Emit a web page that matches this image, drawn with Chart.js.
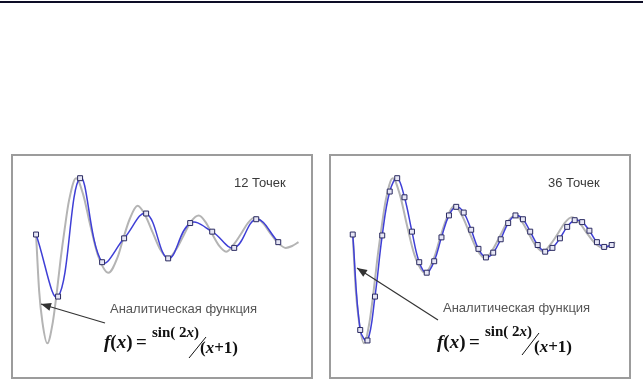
<!DOCTYPE html>
<html lang="ru">
<head>
<meta charset="utf-8">
<title>Интерполяция сплайном</title>
<script src="https://cdn.jsdelivr.net/npm/chart.js"></script>
<style>
    body { margin: 0; width: 643px; height: 383px; background: #fff; position: relative; overflow: hidden;
           font-family: "Liberation Sans", Arial, sans-serif; }
    #topline { position: absolute; left: 0; top: 1px; width: 643px; height: 2px; background: #0d0d26; }
    .panel { position: absolute; top: 154px; width: 302px; height: 225px; box-sizing: border-box;
             border: 2px solid #9c9c9c; background: #fff; }
    .panel canvas { position: absolute; left: 0; top: 0; }
    .lbl { position: absolute; white-space: nowrap; line-height: 1; }
    .count { font-size: 13px; color: #3a3a3a; }
    .caption { font-size: 13px; color: #555; }
    .f { font-family: "Liberation Serif", "Times New Roman", serif; font-weight: bold; color: #111; }
</style>
</head>
<body>
<div id="topline"></div>

<div class="panel" style="left:11px"><canvas id="chart12" width="298" height="221"></canvas></div>
<div class="panel" style="left:329px"><canvas id="chart36" width="298" height="221"></canvas></div>

<!-- подписи левой панели -->
<div class="lbl count" style="left:234px; top:176px">12 Точек</div>
<div class="lbl caption" style="left:110px; top:302px">Аналитическая функция</div>
<div class="lbl f" style="left:104px; top:332px; font-size:19px"><i>f</i>(<i>x</i>)</div>
<div class="lbl f" style="left:136px; top:332px; font-size:19px">=</div>
<div class="lbl f" style="left:152px; top:325px; font-size:15px">sin( 2<i>x</i>)</div>
<div class="lbl f" style="left:200px; top:339px; font-size:17px">(<i>x</i>+1)</div>

<!-- подписи правой панели -->
<div class="lbl count" style="left:548px; top:176px">36 Точек</div>
<div class="lbl caption" style="left:443px; top:301px">Аналитическая функция</div>
<div class="lbl f" style="left:437px; top:332px; font-size:19px"><i>f</i>(<i>x</i>)</div>
<div class="lbl f" style="left:469px; top:332px; font-size:19px">=</div>
<div class="lbl f" style="left:485px; top:324px; font-size:15px">sin( 2<i>x</i>)</div>
<div class="lbl f" style="left:534px; top:338px; font-size:17px">(<i>x</i>+1)</div>

<script>
    // Аналитическая функция sin(2x)/(x+1)
    const analyticX = [0, 0.14, 0.29, 0.51, 0.76, 0.95, 1.12, 1.3, 1.5, 1.82, 2.15, 2.45, 2.8, 3.29,
        3.7, 3.95, 4.25, 4.61, 4.96, 5.3, 5.65, 6.0, 6.35, 6.7, 7.05, 7.39, 7.7, 8.01, 8.32, 8.63,
        8.96, 9.29, 9.62, 9.95, 10.3, 10.65, 11.0, 11.34, 11.63, 11.92];
    const analyticY = [-0.01, -0.60, -0.93, -1.15, -0.93, -0.60, -0.26, 0.05, 0.35, 0.58, 0.40, 0.10, -0.22, -0.41,
        -0.25, -0.06, 0.15, 0.29, 0.19, 0.01, -0.17, -0.26, -0.17, -0.02, 0.13, 0.19, 0.12, -0.01, -0.13, -0.19,
        -0.12, -0.01, 0.11, 0.17, 0.11, 0.00, -0.10, -0.15, -0.13, -0.09];

    // 12 узлов
    const nodes12X = [0, 1, 2, 3, 4, 5, 6, 7, 8, 9, 10, 11];
    const nodes12Y = [-0.01, -0.66, 0.58, -0.30, -0.05, 0.21, -0.26, 0.11, 0.02, -0.15, 0.15, -0.09];

    // 36 узлов
    const nodes36X = [0, 0.34, 0.67, 1.01, 1.34, 1.68, 2.02, 2.35, 2.69, 3.02, 3.36, 3.70, 4.03, 4.37,
        4.70, 5.04, 5.38, 5.71, 6.05, 6.38, 6.72, 7.06, 7.39, 7.73, 8.06, 8.40, 8.74, 9.07, 9.41, 9.74,
        10.08, 10.42, 10.75, 11.09, 11.42, 11.76];
    const nodes36Y = [-0.01, -1.01, -1.12, -0.66, -0.02, 0.44, 0.58, 0.38, 0.02, -0.30, -0.41, -0.29, -0.04, 0.19,
        0.28, 0.22, 0.04, -0.16, -0.25, -0.20, -0.06, 0.11, 0.19, 0.15, 0.02, -0.12, -0.19, -0.15, -0.05, 0.07,
        0.14, 0.12, 0.03, -0.09, -0.14, -0.12];

    function toPoints(xs, ys) {
        return xs.map((x, i) => ({ x: x, y: ys[i] }));
    }

    // стрелка и косая черта дроби
    const decorPlugin = {
        id: 'decor',
        afterDraw(chart, args, opts) {
            const ctx = chart.ctx;
            ctx.save();
            ctx.strokeStyle = '#333';
            ctx.fillStyle = '#333';
            ctx.lineWidth = 1.2;
            const [x1, y1, x2, y2] = opts.arrow;
            ctx.beginPath();
            ctx.moveTo(x1, y1);
            ctx.lineTo(x2, y2);
            ctx.stroke();
            const a = Math.atan2(y2 - y1, x2 - x1);
            ctx.beginPath();
            ctx.moveTo(x2, y2);
            ctx.lineTo(x2 - 10 * Math.cos(a) + 4 * Math.sin(a), y2 - 10 * Math.sin(a) - 4 * Math.cos(a));
            ctx.lineTo(x2 - 10 * Math.cos(a) - 4 * Math.sin(a), y2 - 10 * Math.sin(a) + 4 * Math.cos(a));
            ctx.closePath();
            ctx.fill();
            const [s1, t1, s2, t2] = opts.slash;
            ctx.strokeStyle = '#111';
            ctx.lineWidth = 1;
            ctx.beginPath();
            ctx.moveTo(s1, t1);
            ctx.lineTo(s2, t2);
            ctx.stroke();
            ctx.restore();
        }
    };

    function createChart(id, nx, ny, xMin, xMax, arrow, slash) {
        return new Chart(document.getElementById(id).getContext('2d'), {
            type: 'line',
            data: {
                datasets: [{
                    data: toPoints(nx, ny),
                    borderColor: '#3f3fd6',
                    borderWidth: 1.5,
                    tension: 0.4,
                    pointStyle: 'rect',
                    pointRadius: 3.5,
                    pointBorderWidth: 1,
                    pointBorderColor: '#2a2a60',
                    pointBackgroundColor: '#e6e6f5'
                }, {
                    data: toPoints(analyticX, analyticY),
                    borderColor: '#b4b4b4',
                    borderWidth: 2,
                    pointRadius: 0,
                    cubicInterpolationMode: 'monotone'
                }]
            },
            options: {
                responsive: false,
                animation: false,
                layout: { padding: 0 },
                plugins: {
                    legend: { display: false },
                    tooltip: { enabled: false },
                    decor: { arrow: arrow, slash: slash }
                },
                scales: {
                    x: { type: 'linear', display: false, min: xMin, max: xMax },
                    y: { display: false, min: -1.45, max: 0.76 }
                }
            },
            plugins: [decorPlugin]
        });
    }

    createChart('chart12', nodes12X, nodes12Y, -0.82, 12.26, [92, 167, 28, 148], [176, 202, 193, 181]);
    createChart('chart36', nodes36X, nodes36Y, -0.76, 12.32, [107, 164, 26, 112], [191, 199, 208, 177]);
</script>
</body>
</html>
